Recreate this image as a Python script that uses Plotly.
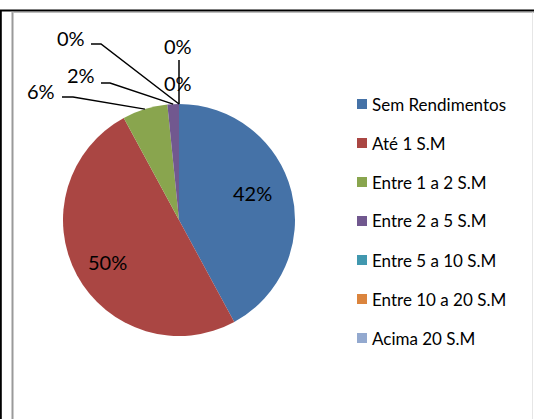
import math
import plotly.graph_objects as go

# ---- data ----
categories = ["Sem Rendimentos", "Até 1 S.M", "Entre 1 a 2 S.M", "Entre 2 a 5 S.M",
              "Entre 5 a 10 S.M", "Entre 10 a 20 S.M", "Acima 20 S.M"]
values = [42.1, 50.0, 6.3, 1.6, 0, 0, 0]
colors = ["#4572A7", "#AA4643", "#89A54E", "#71588F", "#4198AF", "#DB843D", "#93A9CF"]

W, H = 534, 419
FONT = "Lato"

def px(x):
    return x / W

def py(y):
    return 1 - y / H

# pie geometry (pixels)
cx, cy, R = 179, 220, 116

total = sum(values)
texts = [f"{round(v / total * 100):d}%" for v in values]

fig = go.Figure(go.Pie(
    labels=categories,
    values=values,
    sort=False,
    direction="clockwise",
    rotation=0,
    marker=dict(colors=colors, line=dict(width=0)),
    textinfo="none",
    domain=dict(x=[px(cx - R), px(cx + R)], y=[py(cy + R), py(cy - R)]),
    showlegend=False,
    hoverinfo="label+percent",
))

# compute slice mid angles for leader lines
cum = 0
mid_pts = []
for v in values:
    frac_mid = (cum + v / 2) / total
    ang = 2 * math.pi * frac_mid
    mid_pts.append((cx + R * math.sin(ang), cy - R * math.cos(ang)))
    cum += v

shapes = []
annotations = []

def label(xy, text):
    annotations.append(dict(x=px(xy[0]), y=py(xy[1]), xref="paper", yref="paper", text=text,
                            showarrow=False, font=dict(family=FONT, size=20, color="#000"),
                            xanchor="center", yanchor="middle"))

def leader(label_xy, elbow_start, elbow_end, target, text):
    label(label_xy, text)
    path = (f"M {px(elbow_start[0])},{py(elbow_start[1])} "
            f"L {px(elbow_end[0])},{py(elbow_end[1])} "
            f"L {px(target[0])},{py(target[1])}")
    shapes.append(dict(type="path", xref="paper", yref="paper", path=path,
                       line=dict(color="#000", width=1.5)))

# inside labels for the large slices
label((252, 193), texts[0])
label((107, 262), texts[1])
# outside labels for small slices
leader((41, 91), (62, 97), (73, 97), mid_pts[2], texts[2])       # Entre 1 a 2
leader((81, 75), (101, 83), (110, 83), mid_pts[3], texts[3])     # Entre 2 a 5
leader((71, 38), (91, 44), (101, 44), mid_pts[4], texts[4])      # Entre 5 a 10
label((178, 46), texts[5])                                       # Entre 10 a 20
shapes.append(dict(type="line", xref="paper", yref="paper",
                   x0=px(mid_pts[5][0]), y0=py(60), x1=px(mid_pts[5][0]), y1=py(mid_pts[5][1]),
                   line=dict(color="#000", width=1.5)))
label((178, 83), texts[6])                                       # Acima 20

# legend (manual, to match the spacing of the original)
leg_x, leg_y0, leg_dy = 357, 104, 39
for i, (name, col) in enumerate(zip(categories, colors)):
    yy = leg_y0 + i * leg_dy
    shapes.append(dict(type="rect", xref="paper", yref="paper",
                       x0=px(leg_x), x1=px(leg_x + 10), y0=py(yy + 5), y1=py(yy - 5),
                       fillcolor=col, line=dict(width=0)))
    annotations.append(dict(x=px(leg_x + 13), y=py(yy), xref="paper", yref="paper", text=name,
                            showarrow=False, xanchor="left", yanchor="middle",
                            font=dict(family=FONT, size=17, color="#000")))

# frame lines
shapes += [
    dict(type="line", xref="paper", yref="paper", x0=0, x1=1, y0=py(10.5), y1=py(10.5),
         line=dict(color="#000", width=2)),
    dict(type="line", xref="paper", yref="paper", x0=px(0.8), x1=px(0.8), y0=py(10), y1=0,
         line=dict(color="#000", width=2)),
    dict(type="line", xref="paper", yref="paper", x0=px(12.5), x1=px(12.5), y0=py(11.5), y1=0,
         line=dict(color="#9a9a9a", width=2)),
    dict(type="line", xref="paper", yref="paper", x0=px(12.5), x1=1, y0=py(12.5), y1=py(12.5),
         line=dict(color="#bdbdbd", width=1)),
    dict(type="line", xref="paper", yref="paper", x0=px(532.5), x1=px(532.5), y0=py(12.5), y1=0,
         line=dict(color="#e6e6e6", width=1)),
]

fig.update_layout(
    width=W, height=H,
    margin=dict(l=0, r=0, t=0, b=0),
    paper_bgcolor="white",
    plot_bgcolor="white",
    font=dict(family=FONT, size=15, color="#000"),
    showlegend=False,
    shapes=shapes,
    annotations=annotations,
)

fig.write_html("out.html", config={"displayModeBar": False},
               post_script="document.body.style.margin='0';document.body.style.overflow='hidden';")
